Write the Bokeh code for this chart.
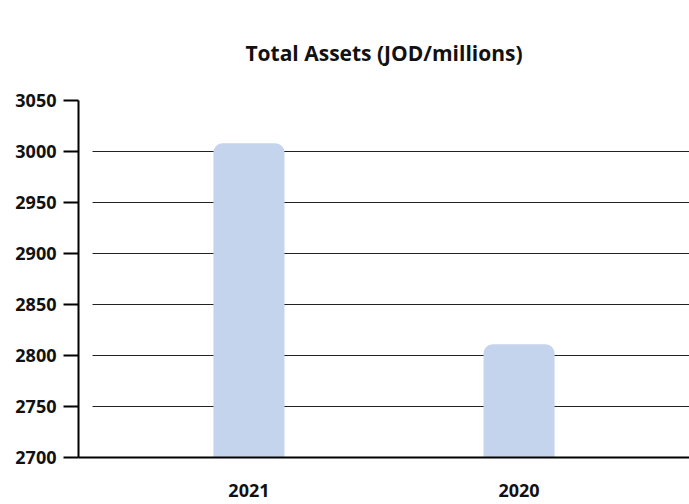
from bokeh.plotting import figure
from bokeh.models import Range1d, FixedTicker, ColumnDataSource
from bokeh.embed import file_html
from bokeh.resources import INLINE

# Data
years = ["2021", "2020"]
total_assets = [3008, 2811]
y_ticks = [2700, 2750, 2800, 2850, 2900, 2950, 3000, 3050]

xs = list(range(len(years)))
src = ColumnDataSource(dict(x=xs, top=total_assets, year=years))

FONT = "Open Sans"

p = figure(width=689, height=504, output_backend="svg", toolbar_location=None,
           x_range=Range1d(-0.631, 1.631), y_range=Range1d(2700, 3050),
           min_border_left=78, min_border_right=0, min_border_top=100, min_border_bottom=47)

p.vbar(x="x", top="top", bottom=2700, width=0.263, source=src,
       fill_color="#c4d4ec", line_color=None, border_radius=(9, 9, 0, 0))

p.title.text = "Total Assets (JOD/millions)"
p.title.align = "center"
p.title.vertical_align = "top"
p.title.text_font = FONT
p.title.text_font_size = "21px"
p.title.text_font_style = "bold"
p.title.text_color = "#111111"
p.title.standoff = 63

p.outline_line_color = None
p.background_fill_color = "white"
p.border_fill_color = "white"

# y axis
ya = p.yaxis[0]
ya.ticker = FixedTicker(ticks=y_ticks)
ya.axis_line_color = "black"
ya.axis_line_width = 2
ya.major_tick_line_color = "black"
ya.major_tick_line_width = 2
ya.major_tick_out = 15
ya.major_tick_in = 0
ya.minor_tick_line_color = None
ya.major_label_standoff = 7
ya.major_label_text_font = FONT
ya.major_label_text_font_size = "18px"
ya.major_label_text_font_style = "bold"
ya.major_label_text_color = "#111111"

# x axis
xa = p.xaxis[0]
xa.ticker = FixedTicker(ticks=xs)
xa.major_label_overrides = {i: y for i, y in zip(xs, years)}
xa.axis_line_color = "black"
xa.axis_line_width = 2
xa.major_tick_line_color = None
xa.major_tick_out = 0
xa.major_tick_in = 0
xa.minor_tick_line_color = None
xa.major_label_standoff = 26
xa.major_label_text_font = FONT
xa.major_label_text_font_size = "18px"
xa.major_label_text_font_style = "bold"
xa.major_label_text_color = "#111111"

# grids
p.xgrid.grid_line_color = None
p.ygrid.ticker = FixedTicker(ticks=y_ticks)
p.ygrid.grid_line_color = "#222222"
p.ygrid.grid_line_width = 1
p.ygrid.cross_bounds = (-0.58, 1.631)

open("out.html", "w").write(file_html(p, INLINE))
